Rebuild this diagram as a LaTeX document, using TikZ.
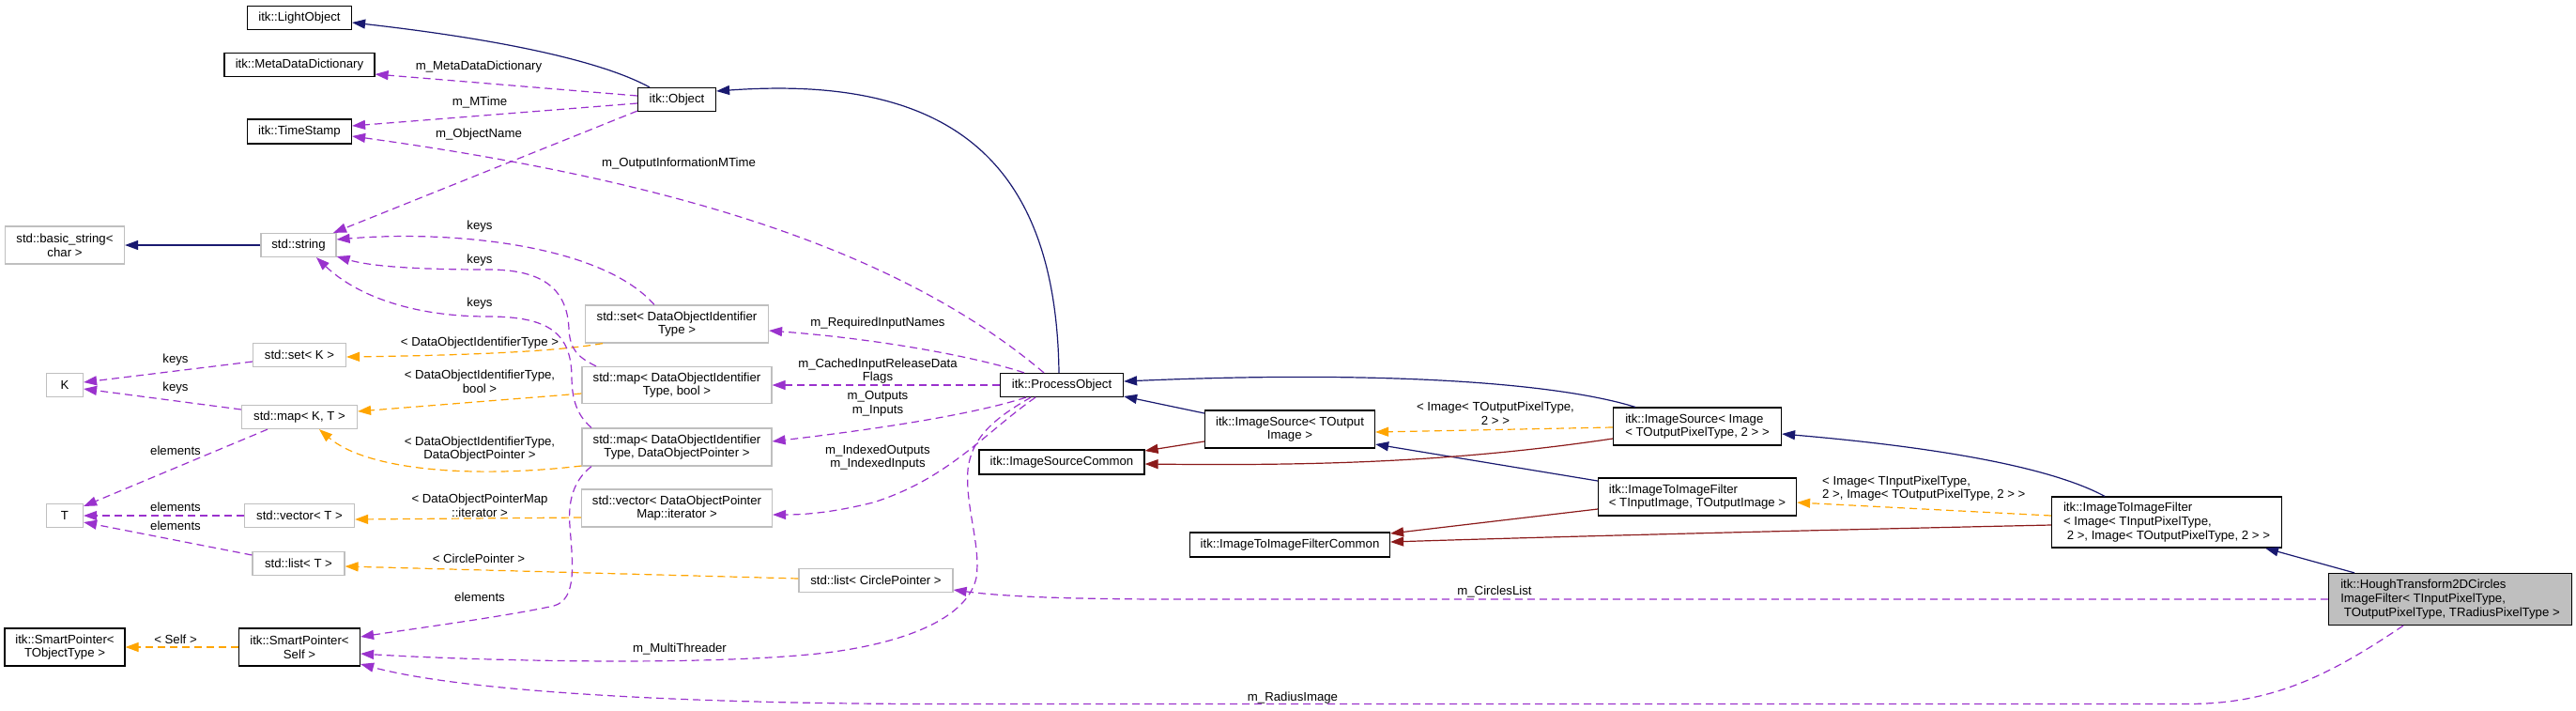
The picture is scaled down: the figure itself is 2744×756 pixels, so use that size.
\documentclass[tikz,border=0pt]{standalone}
\usepackage{fontspec}
\setmainfont{Liberation Sans}
\usetikzlibrary{arrows.meta,calc}
\definecolor{navyc}{HTML}{191970}
\definecolor{dredc}{HTML}{8B1A1A}
\definecolor{purpc}{HTML}{9A32CD}
\definecolor{orngc}{HTML}{FFA500}
\definecolor{gbord}{HTML}{BFBFBF}
\begin{document}
\begin{tikzpicture}[x=1pt,y=-1pt,
  every node/.style={font=\fontsize{13.2pt}{14.7pt}\selectfont, inner sep=0pt},
  cls/.style={draw=black, line width=1.2pt, fill=white, align=center},
  ext/.style={draw=gbord, line width=1.2pt, fill=white, align=center},
  lft/.style={align=left},
  box/.style 2 args={minimum width=#1pt, minimum height=#2pt},
  tip/.style={-{Triangle[length=14pt,width=10pt]}},
  inh/.style={navyc, line width=1.2pt, tip},
  priv/.style={dredc, line width=1.2pt, tip},
  use/.style={purpc, line width=1.2pt, dash pattern=on 8pt off 5pt, tip},
  tmpl/.style={orngc, line width=1.2pt, dash pattern=on 8pt off 5pt, tip},
  lab/.style={align=center}
]
\fill[white] (0,0) rectangle (2744,756);
\useasboundingbox (0,0) rectangle (2744,756);

% ---- class nodes ----
\node[cls,box={111}{25}] (lo) at (319,19) {itk::LightObject};
\node[cls,box={160}{25}] (mdd) at (319,69) {itk::MetaDataDictionary};
\node[cls,box={111}{26}] (ts) at (319,140) {itk::TimeStamp};
\node[ext,box={127}{40}] (bstr) at (69,261) {std::basic\_string<\\char >};
\node[ext,box={80}{25}] (str) at (318,261) {std::string};
\node[ext,box={99}{25}] (setk) at (319,378) {std::set< K >};
\node[ext,box={39}{25}] (k) at (69,410) {K};
\node[ext,box={123}{25}] (mapkt) at (319,444) {std::map< K, T >};
\node[ext,box={39}{25}] (t) at (69,549) {T};
\node[ext,box={117}{25}] (vect) at (319,549) {std::vector< T >};
\node[ext,box={98}{25}] (listt) at (318,600) {std::list< T >};
\node[cls,box={128}{40}] (spo) at (69,689) {itk::SmartPointer<\\TObjectType >};
\node[cls,box={129}{40}] (sps) at (319,689) {itk::SmartPointer<\\Self >};
\node[cls,box={83}{25}] (obj) at (721,106) {itk::Object};
\node[ext,box={195}{40}] (setdoi) at (721,345) {std::set< DataObjectIdentifier\\Type >};
\node[ext,box={202}{39}] (mapb) at (721,410) {std::map< DataObjectIdentifier\\Type, bool >};
\node[ext,box={202}{40}] (mapd) at (721,476) {std::map< DataObjectIdentifier\\Type, DataObjectPointer >};
\node[ext,box={203}{40}] (vecd) at (721,541) {std::vector< DataObjectPointer\\Map::iterator >};
\node[ext,box={164}{25}] (listc) at (933,618) {std::list< CirclePointer >};
\node[cls,box={131}{25}] (po) at (1131,410) {itk::ProcessObject};
\node[cls,box={176}{26}] (isc) at (1131,492) {itk::ImageSourceCommon};
\node[cls,box={181}{40}] (isrc) at (1374,457) {itk::ImageSource< TOutput\\Image >};
\node[cls,box={213}{26}] (itifc) at (1374,580) {itk::ImageToImageFilterCommon};
\node[cls,lft,box={179}{40}] (isrcimg) at (1808,454) {itk::ImageSource< Image\\< TOutputPixelType, 2 > >};
\node[cls,lft,box={211}{40}] (itif) at (1808,529) {itk::ImageToImageFilter\\< TInputImage, TOutputImage >};
\node[cls,lft,box={245}{54}] (itifimg) at (2308,556) {itk::ImageToImageFilter\\< Image< TInputPixelType,\\\hspace*{3.7pt}2 >, Image< TOutputPixelType, 2 > >};
\node[cls,lft,box={259}{55},fill=gbord] (hough) at (2610,638) {itk::HoughTransform2DCircles\\ImageFilter< TInputPixelType,\\\hspace*{3.7pt}TOutputPixelType, TRadiusPixelType >};

% ---- public inheritance ----
\draw[inh] ($(obj.north)+(-29,0)$) .. controls (650,70) and (560,45) .. ($(lo.east)+(0,5)$);
\draw[inh] ($(po.north)+(-3,0)$) .. controls (1125,160) and (1000,80) .. ($(obj.east)+(0,-9)$);
\draw[inh] ($(isrc.west)+(0,-17)$) -- ($(po.east)+(0,12)$);
\draw[inh] ($(isrcimg.north)+(-66,0)$) .. controls (1650,405) and (1450,395) .. ($(po.east)+(0,-4)$);
\draw[inh] ($(itif.west)+(0,-17)$) -- ($(isrc.east)+(0,16)$);
\draw[inh] ($(itifimg.north)+(-66,0)$) .. controls (2180,495) and (2050,475) .. ($(isrcimg.east)+(0,8)$);
\draw[inh] ($(hough.north)+(-102,0)$) -- ($(itifimg.south)+(105,0)$);
\draw[inh] (str.west) -- (bstr.east);

% ---- private inheritance ----
\draw[priv] ($(isrc.west)+(0,13)$) -- ($(isc.east)+(0,-12)$);
\draw[priv] ($(isrcimg.west)+(0,13)$) .. controls (1550,492) and (1400,496) .. ($(isc.east)+(0,2)$);
\draw[priv] ($(itif.west)+(0,13)$) -- ($(itifc.east)+(0,-12)$);
\draw[priv] ($(itifimg.west)+(0,3)$) .. controls (2000,563) and (1700,570) .. ($(itifc.east)+(0,-3)$);

% ---- template instances ----
\draw[tmpl] ($(setdoi.south)+(-79,0)$) .. controls (600,373) and (520,378) .. ($(setk.east)+(0,2)$);
\draw[tmpl] ($(mapb.west)+(0,9)$) -- ($(mapkt.east)+(0,-6)$);
\draw[tmpl] ($(mapd.west)+(0,20)$) .. controls (500,510) and (390,500) .. ($(mapkt.south)+(21,0)$);
\draw[tmpl] ($(vecd.west)+(0,10)$) -- ($(vect.east)+(0,4)$);
\draw[tmpl] ($(listc.west)+(0,-2)$) -- ($(listt.east)+(0,3)$);
\draw[tmpl] (sps.west) -- (spo.east);
\draw[tmpl] ($(isrcimg.west)+(0,1)$) -- ($(isrc.east)+(0,3)$);
\draw[tmpl] ($(itifimg.west)+(0,-7)$) -- ($(itif.east)+(0,6)$);

% ---- usage ----
\draw[use] ($(obj.west)+(0,-4)$) -- ($(mdd.east)+(0,10)$);
\draw[use] ($(obj.west)+(0,4)$) -- ($(ts.east)+(0,-6)$);
\draw[use] ($(po.north)+(-19,0)$) .. controls (950,260) and (700,190) .. ($(ts.east)+(0,5)$);
\draw[use] ($(obj.south west)+(0,-1)$) -- ($(str.north)+(37,0)$);
\draw[use] ($(setdoi.north)+(-24,0)$) .. controls (640,260) and (480,245) .. ($(str.east)+(0,-6)$);
\draw[use] ($(mapb.north)+(-86,0)$) .. controls (615,380) and (607,372) .. (606,350) .. controls (604,305) and (575,287) .. (520,287) .. controls (460,287) and (400,285) .. ($(str.east)+(0,12)$);
\draw[use] ($(mapd.north)+(-91,0)$) .. controls (612,440) and (609,420) .. (609,400) .. controls (608,355) and (585,337) .. (520,337) .. controls (440,337) and (380,315) .. ($(str.south)+(19,0)$);
\draw[use] ($(mapd.south)+(-91,0)$) .. controls (610,512) and (605,535) .. (607,560) .. controls (610,600) and (615,638) .. (590,645) .. controls (540,656) and (450,668) .. ($(sps.east)+(0,-11)$);
\draw[use] (po.west) -- (mapb.east);
\draw[use] ($(po.south)+(-38,0)$) .. controls (1040,440) and (950,455) .. ($(mapd.east)+(0,-6)$);
\draw[use] ($(po.south)+(-28,0)$) .. controls (1050,460) and (1010,510) .. (930,535) .. controls (890,545) and (860,548) .. ($(vecd.east)+(0,7)$);
\draw[use] ($(po.south)+(-33,0)$) .. controls (1060,445) and (1035,465) .. (1031,500) .. controls (1028,540) and (1045,580) .. (1040,615) .. controls (1030,660) and (960,685) .. (880,695) .. controls (750,710) and (500,703) .. ($(sps.east)+(0,7)$);
\draw[use] (hough.west) -- (1250,638) .. controls (1120,638) and (1060,634) .. ($(listc.east)+(0,10)$);
\draw[use] ($(hough.south)+(-50,0)$) .. controls (2480,720) and (2420,749.5) .. (2330,749.5) -- (1000,749.5) .. controls (750,749.5) and (500,738) .. ($(sps.east)+(0,18)$);
\draw[use] ($(po.north)+(-40,0)$) .. controls (1050,383) and (950,362) .. ($(setdoi.east)+(0,7)$);
\draw[use] ($(setk.west)+(0,7)$) -- ($(k.east)+(0,-3)$);
\draw[use] ($(mapkt.west)+(0,-8)$) -- ($(k.east)+(0,4)$);
\draw[use] ($(mapkt.south)+(-34,0)$) -- ($(t.east)+(0,-10)$);
\draw[use] (vect.west) -- (t.east);
\draw[use] ($(listt.west)+(0,-9)$) -- ($(t.east)+(0,7)$);

% ---- edge labels ----
\node[lab] (l1) at (510,71) {m\_MetaDataDictionary};
\node[lab] (l2) at (511,109) {m\_MTime};
\node[lab] (l3) at (510,143) {m\_ObjectName};
\node[lab] (l4) at (723,174) {m\_OutputInformationMTime};
\node[lab] (l5) at (511,241) {keys};
\node[lab] (l6) at (511,277) {keys};
\node[lab] (l7) at (511,323) {keys};
\node[lab] (l8) at (511,365) {< DataObjectIdentifierType >};
\node[lab] (l9) at (511,406) {< DataObjectIdentifierType,\\bool >};
\node[lab] (l10) at (511,478) {< DataObjectIdentifierType,\\DataObjectPointer >};
\node[lab] (l11) at (511,538) {< DataObjectPointerMap\\::iterator >};
\node[lab] (l12) at (510,595) {< CirclePointer >};
\node[lab] (l13) at (511,636) {elements};
\node[lab] (l14) at (187,383) {keys};
\node[lab] (l15) at (187,413) {keys};
\node[lab] (l16) at (187,480) {elements};
\node[lab] (l17) at (187,540) {elements};
\node[lab] (l18) at (187,560) {elements};
\node[lab] (l19) at (187,681) {< Self >};
\node[lab] (l20) at (935,344) {m\_RequiredInputNames};
\node[lab] (l21) at (935,395) {m\_CachedInputReleaseData\\Flags};
\node[lab] (l22) at (935,430) {m\_Outputs\\m\_Inputs};
\node[lab] (l23) at (935,487) {m\_IndexedOutputs\\m\_IndexedInputs};
\node[lab] (l24) at (724,691) {m\_MultiThreader};
\node[lab] (l25) at (1592,630) {m\_CirclesList};
\node[lab] (l26) at (1377,743) {m\_RadiusImage};
\node[lab] (l27) at (1593,440) {< Image< TOutputPixelType,\\2 > >};
\node[lab,align=left,anchor=west] (l28) at (1941,520) {< Image< TInputPixelType,\\2 >, Image< TOutputPixelType, 2 > >};
\end{tikzpicture}
\end{document}
